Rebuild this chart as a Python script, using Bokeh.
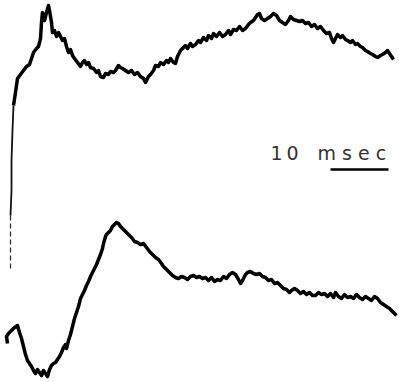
from bokeh.plotting import figure
from bokeh.models import Range1d, ColumnDataSource
from bokeh.core.properties import value
from bokeh.embed import file_html
from bokeh.resources import INLINE

# Values (horizontal: time position, vertical: deflection; screen-like units)
tail_t = [10, 10, 10]
tail_v = [268, 240, 212]
rise_t = [10, 11, 11, 12, 13]
rise_v = [215, 190, 160, 130, 105]

upper_t = [13, 15, 17, 20, 23, 26, 29, 31, 33, 36, 38, 40, 41, 42, 43, 44, 46, 48, 49, 51, 52, 54, 56, 58, 60, 62, 64, 66, 68, 70, 72, 74, 77, 80, 82, 84, 86, 88, 90, 93, 96, 98, 100, 103, 105, 108, 110, 113, 115, 118, 120, 122, 125, 128, 131, 134, 137, 140, 143, 145, 148, 150, 153, 155, 158, 160, 163, 166, 168, 170, 173, 175, 177, 180, 182, 185, 187, 190, 192, 195, 198, 200, 203, 206, 208, 211, 213, 216, 219, 222, 225, 228, 230, 233, 236, 239, 242, 245, 248, 250, 253, 255, 257, 259, 261, 264, 267, 270, 273, 276, 279, 282, 285, 288, 290, 293, 296, 299, 302, 305, 308, 311, 314, 317, 320, 323, 326, 329, 331, 333, 335, 337, 340, 342, 345, 347, 350, 352, 355, 357, 360, 362, 365, 367, 370, 372, 375, 377, 380, 382, 385, 387, 389, 391, 393]
upper_v = [105, 92, 78, 74, 70, 66, 64, 58, 52, 48, 46, 38, 22, 12, 16, 20, 12, 5, 10, 22, 32, 30, 36, 32, 36, 40, 38, 46, 52, 49, 55, 58, 62, 66, 62, 60, 64, 62, 67, 68, 72, 70, 76, 77, 73, 74, 71, 72, 70, 65, 67, 68, 70, 72, 70, 74, 72, 76, 78, 82, 76, 74, 70, 65, 66, 62, 64, 60, 62, 58, 62, 63, 56, 50, 48, 45, 48, 43, 46, 44, 40, 42, 37, 40, 35, 38, 33, 36, 32, 36, 34, 30, 34, 29, 30, 26, 30, 28, 24, 22, 20, 17, 14, 13, 18, 20, 18, 16, 13, 15, 20, 22, 24, 20, 16, 19, 20, 21, 20, 23, 22, 26, 24, 28, 26, 30, 33, 32, 38, 42, 38, 34, 37, 35, 39, 40, 42, 40, 44, 43, 46, 47, 50, 51, 53, 54, 56, 57, 55, 54, 52, 50, 53, 56, 59]

lower_t = [7, 6, 8, 11, 14, 17, 19, 21, 23, 25, 27, 29, 31, 33, 35, 37, 39, 41, 43, 45, 47, 49, 51, 53, 55, 57, 59, 61, 63, 65, 66, 68, 70, 72, 74, 76, 78, 80, 82, 84, 86, 88, 90, 92, 94, 96, 98, 100, 102, 103, 105, 106, 108, 110, 112, 114, 116, 118, 120, 122, 125, 128, 131, 134, 137, 140, 143, 146, 149, 152, 155, 158, 161, 163, 165, 167, 170, 172, 175, 178, 181, 184, 187, 190, 193, 196, 199, 202, 205, 208, 211, 214, 217, 220, 223, 226, 229, 232, 235, 238, 240, 242, 245, 247, 250, 253, 256, 259, 262, 265, 268, 271, 274, 277, 280, 283, 286, 289, 291, 294, 297, 300, 303, 306, 309, 312, 315, 318, 321, 324, 327, 330, 333, 335, 338, 341, 344, 347, 350, 353, 356, 359, 362, 365, 368, 371, 374, 377, 380, 383, 386, 389, 392, 396]
lower_v = [343, 336, 333, 330, 327, 325, 332, 338, 346, 354, 360, 363, 366, 370, 373, 369, 372, 375, 370, 373, 376, 369, 365, 363, 362, 359, 356, 352, 347, 344, 348, 340, 334, 326, 318, 312, 306, 298, 294, 290, 285, 281, 276, 272, 268, 264, 259, 254, 248, 243, 236, 234, 232, 230, 226, 224, 222, 223, 226, 228, 231, 234, 237, 241, 242, 244, 243, 247, 251, 254, 257, 259, 263, 266, 268, 270, 273, 275, 277, 278, 276, 277, 279, 276, 275, 277, 276, 278, 277, 280, 277, 281, 279, 280, 276, 278, 274, 272, 274, 279, 283, 280, 274, 272, 271, 273, 274, 273, 276, 277, 280, 279, 283, 282, 285, 288, 289, 292, 290, 288, 290, 293, 291, 294, 292, 295, 295, 292, 294, 293, 296, 293, 297, 292, 296, 298, 294, 297, 296, 298, 294, 297, 299, 296, 298, 300, 296, 298, 302, 304, 306, 308, 311, 315]

scale_t = [330, 388]          # 10 msec calibration bar
scale_v = [169, 169]
label_num = "1\u20090"
label_unit = "m s e c"

p = figure(width=399, height=382, output_backend="svg", toolbar_location=None,
           x_range=Range1d(0, 399), y_range=Range1d(382, 0),
           min_border=0)
p.axis.visible = False
p.grid.visible = False
p.outline_line_color = None
p.background_fill_color = "white"
p.border_fill_color = "white"

p.line(tail_t, tail_v, line_color="#333333", line_width=1.3, line_dash="5 3")
p.line(rise_t, rise_v, line_color="#111111", line_width=1.8)
p.line(upper_t, upper_v, line_color="black", line_width=3.5, line_join="round")
p.line(lower_t, lower_v, line_color="black", line_width=3.5, line_join="round")
p.line(scale_t, scale_v, line_color="black", line_width=2.5)

src = ColumnDataSource(dict(x=[270, 317], y=[152, 152], t=[label_num, label_unit]))
p.text(x="x", y="y", text="t", source=src, text_font=value("DejaVu Sans"),
       text_font_size="19px", text_color="#333333", text_baseline="alphabetic",
       text_align="left")

open("out.html", "w").write(file_html(p, INLINE))
